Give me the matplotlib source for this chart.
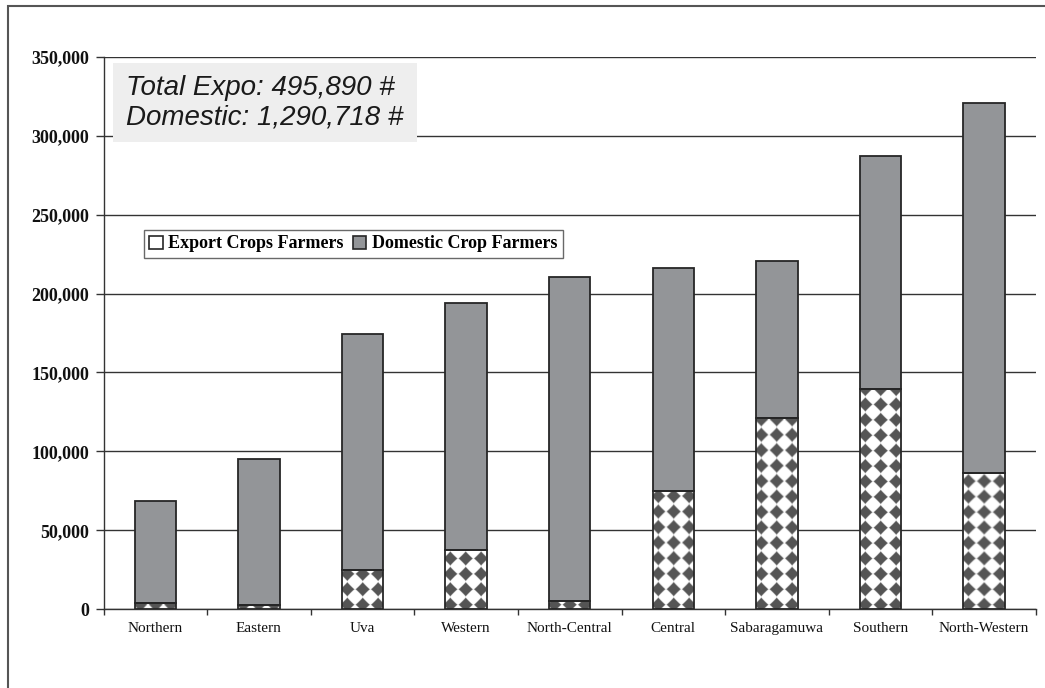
import numpy as np
import matplotlib
matplotlib.use("Agg")
import matplotlib.pyplot as plt
from matplotlib.patches import Patch, Rectangle
from matplotlib.ticker import FuncFormatter, MultipleLocator, FixedLocator

# ---- data -------------------------------------------------------------
provinces = ["Northern", "Eastern", "Uva", "Western", "North-Central",
             "Central", "Sabaragamuwa", "Southern", "North-Western"]
export_farmers = [3990, 2975, 24683, 37340, 5060, 74800, 121222, 139300, 86520]
domestic_farmers = [64700, 92100, 149500, 156500, 205200, 141650, 99100, 148100, 233868]
series_names = ["Export Crops Farmers", "Domestic Crop Farmers"]
y_max = 350000
y_step = 50000

# ---- figure geometry ----------------------------------------------------
W, H, DPI = 1045, 688, 100
fig = plt.figure(figsize=(W / DPI, H / DPI), dpi=DPI)
fig.patch.set_facecolor("white")

ax_left, ax_right, ax_top, ax_bottom = 103.5, 1036.0, 56.7, 609.3
ax = fig.add_axes([ax_left / W, 1 - ax_bottom / H,
                   (ax_right - ax_left) / W, (ax_bottom - ax_top) / H])

serif = "Liberation Serif"
sans = "Liberation Sans"
edge = "#262626"
gray = "#939598"
dark_diamond = "#555555"

x = np.arange(len(provinces))
bar_w = 0.4
n = len(provinces)

ax.set_xlim(-0.5, n - 0.5)
ax.set_ylim(0, y_max)

# ---- bars ---------------------------------------------------------------
export_bars = ax.bar(x, export_farmers, width=bar_w, color="white",
                     edgecolor="none", linewidth=0, zorder=2)
ax.bar(x, domestic_farmers, bottom=export_farmers, width=bar_w, color=gray,
       edgecolor=edge, linewidth=1.3, zorder=3)

# diamond checker fill for the export segment
px_per_x = (ax_right - ax_left) / n
px_per_y = (ax_bottom - ax_top) / y_max
period = 15.4


def diamond_texture(w_px, h_px, x_phase, y_phase, ss=4):
    nx = max(int(np.ceil(w_px * ss)), ss)
    ny = max(int(np.ceil(h_px * ss)), ss)
    nx -= nx % ss
    ny -= ny % ss
    xs = (np.arange(nx) + 0.5) / ss
    ys = (np.arange(ny) + 0.5) / ss
    X, Y = np.meshgrid(xs - x_phase, ys - y_phase)
    dx = np.abs((X + period / 2) % period - period / 2)
    dy = np.abs((Y + period / 2) % period - period / 2)
    # soft-edged diamonds
    d = (dx ** 0.95 + dy ** 0.95) ** (1 / 0.95)
    r = 0.46 * period
    dark = np.clip((r - d) / 1.4 + 0.5, 0, 1)
    a = dark.reshape(ny // ss, ss, nx // ss, ss).mean(axis=(1, 3))
    c_dark = np.array(matplotlib.colors.to_rgb(dark_diamond))
    img = (1 - a)[..., None] * np.ones(3) + a[..., None] * c_dark
    return img, nx / ss, ny / ss


for rect, val in zip(export_bars.patches, export_farmers):
    w_px = bar_w * px_per_x
    h_px = val * px_per_y
    img, tw, th = diamond_texture(w_px, h_px + 2, w_px / 2, 4.3)
    x0 = rect.get_x()
    x1 = x0 + tw / px_per_x
    y1 = th / px_per_y
    im = ax.imshow(img, extent=(x0, x1, 0, y1), origin="lower",
                   aspect="auto", interpolation="bilinear", zorder=2.1)
    im.set_clip_path(rect)

ax.bar(x, export_farmers, width=bar_w, fill=False, edgecolor=edge,
       linewidth=1.3, zorder=3)

ax.set_xlim(-0.5, n - 0.5)
ax.set_ylim(0, y_max)

# ---- axes styling -------------------------------------------------------
for side in ("top", "right"):
    ax.spines[side].set_visible(False)
for side in ("left", "bottom"):
    ax.spines[side].set_color("#333333")
    ax.spines[side].set_linewidth(1.0)

ax.yaxis.set_major_locator(MultipleLocator(y_step))
ax.yaxis.set_major_formatter(FuncFormatter(lambda v, p: f"{int(v):,}"))
ax.yaxis.grid(True, color="#333333", linewidth=1.0)
ax.set_axisbelow(True)

ax.set_xticks(x)
ax.set_xticklabels(provinces)
ax.xaxis.set_minor_locator(FixedLocator(np.arange(n + 1) - 0.5))
ax.tick_params(axis="x", which="major", length=0, pad=9)
ax.tick_params(axis="x", which="minor", length=4.5, width=1, color="#333333",
               direction="out")
ax.tick_params(axis="y", which="major", length=5.5, width=1, color="#333333",
               direction="out", pad=5)
for lab in ax.get_xticklabels():
    lab.set_fontfamily(serif)
    lab.set_fontsize(11)
    lab.set_color("#111111")
for lab in ax.get_yticklabels():
    lab.set_fontfamily(serif)
    lab.set_fontsize(13)
    lab.set_fontweight("bold")
    lab.set_color("#111111")

# ---- legend -------------------------------------------------------------
handles = [Patch(facecolor="white", edgecolor=edge, linewidth=1.2),
           Patch(facecolor=gray, edgecolor=edge, linewidth=1.2)]
leg = fig.legend(handles, series_names, loc="upper left",
                 bbox_to_anchor=(144 / W, 1 - 230 / H),
                 bbox_transform=fig.transFigure, ncol=2, frameon=True,
                 fancybox=False, borderaxespad=0, borderpad=0.3,
                 handlelength=0.75, handleheight=0.75, handletextpad=0.3,
                 columnspacing=0.5,
                 prop={"family": serif, "weight": "bold", "size": 13})
leg.get_frame().set_edgecolor("#444444")
leg.get_frame().set_linewidth(1.0)

# ---- totals box ---------------------------------------------------------
fig.patches.append(Rectangle((113 / W, 1 - 141.7 / H), 303.5 / W, 79 / H,
                             transform=fig.transFigure, facecolor="#eeeeee",
                             edgecolor="none", zorder=5))
total_export = sum(export_farmers)
total_domestic = sum(domestic_farmers)
fig.text(126.5 / W, 1 - 95 / H, f"Total Expo: {total_export:,} #",
         family=sans, style="italic", fontsize=20, color="#1a1a1a",
         va="baseline", ha="left", zorder=6)
fig.text(126 / W, 1 - 125 / H, f"Domestic: {total_domestic:,} #",
         family=sans, style="italic", fontsize=20, color="#1a1a1a",
         va="baseline", ha="left", zorder=6)

# ---- outer chart frame --------------------------------------------------
fig.patches.append(Rectangle((8.3 / W, -0.2), 1.2, 1 - 5.7 / H + 0.2,
                             transform=fig.transFigure, facecolor="none",
                             edgecolor="#555555", linewidth=1.5, zorder=0))

fig.savefig("out.png", dpi=DPI)
